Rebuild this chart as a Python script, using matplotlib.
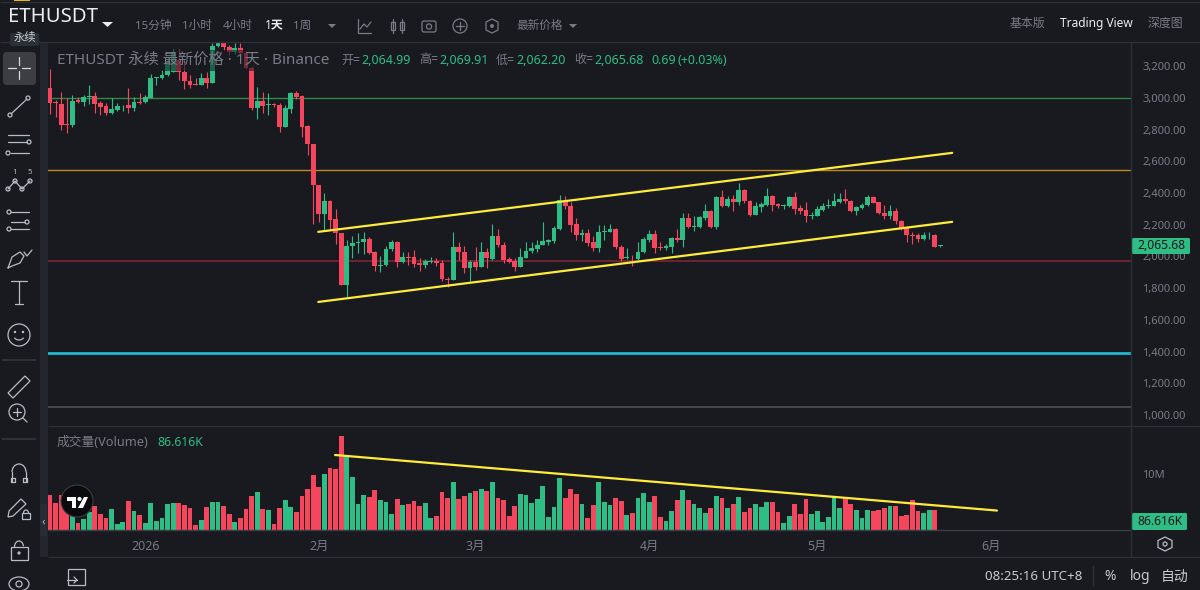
#ETHUSDT daily chart, Binance style
import matplotlib
matplotlib.use('Agg')
import matplotlib.pyplot as plt
from matplotlib.patches import Rectangle, Circle, FancyBboxPatch, Polygon, Arc

plt.rcParams['font.family'] = ['Noto Sans', 'Noto Sans CJK SC', 'DejaVu Sans']

#Daily candles
opens = [3063,2975,2962,2836,2828,2987,2975,3004,3013,2966,2950,2903,2924,2952,2954,2937,2975,2971,3000,3128,
 3126,3143,3166,3239,3166,3109,3086,3084,3126,3093,3324,3345,3320,3292,3313,3282,3187,2935,2983,2958,
 2962,2956,2815,2928,3029,3013,2823,2710,2453,2268,2348,2234,2150,1822,2063,2083,2088,2109,2025,1940,
 1947,2046,2088,1968,1999,1995,1957,1949,1966,1974,1961,1858,1852,2058,2029,1928,1966,1936,2029,1982,
 2130,2075,1982,1972,1936,1991,2033,2050,2071,2094,2096,2176,2355,2319,2205,2136,2147,2088,2052,2151,
 2157,2172,2062,1987,1993,1982,2025,2104,2142,2062,2054,2058,2115,2104,2243,2188,2188,2241,2285,2184,
 2374,2319,2361,2344,2420,2352,2260,2310,2327,2378,2331,2319,2319,2374,2306,2294,2252,2256,2294,2315,
 2319,2346,2361,2352,2289,2306,2323,2374,2344,2277,2256,2285,2226,2180,2138,2134,2109,2127,2138,2064.99]
closes = [2966,2966,2832,2828,2983,2977,3004,3013,2962,2945,2903,2928,2950,2958,2937,2975,2968,3004,3126,3134,
 3147,3229,3292,3166,3105,3084,3082,3126,3093,3328,3345,3320,3292,3313,3286,3187,2935,2983,2950,2962,
 2954,2815,2933,3029,3004,2819,2706,2449,2268,2348,2230,2150,1822,2066,2087,2092,2109,2020,1940,1949,
 2050,2088,1968,1999,1991,1953,1947,1972,1972,1959,1856,1852,2058,2025,1928,1966,1936,2029,1987,2130,
 2073,1978,1968,1936,1995,2037,2054,2075,2096,2102,2180,2355,2315,2201,2134,2147,2083,2054,2155,2161,
 2172,2058,1982,1995,1987,2029,2109,2142,2054,2054,2067,2115,2104,2243,2188,2193,2247,2285,2184,2374,
 2319,2361,2346,2420,2348,2260,2315,2331,2378,2327,2319,2325,2374,2302,2289,2252,2260,2298,2319,2327,
 2348,2361,2348,2289,2310,2327,2374,2340,2273,2256,2285,2222,2176,2134,2130,2109,2134,2132,2062,2065.68]
highs = [3181,2987,3036,2998,3019,3004,3019,3082,3040,2981,2966,2998,2966,2958,3061,3008,3029,3019,3151,3134,
 3177,3250,3307,3307,3239,3145,3124,3156,3166,3345,3360,3360,3335,3345,3345,3295,3200,3071,3040,3029,
 2970,2966,2956,3040,3046,3019,2830,2710,2453,2399,2357,2298,2150,2104,2130,2147,2151,2121,2037,2004,
 2067,2104,2100,2025,2025,2041,1987,1982,1995,1989,1978,1873,2157,2088,2067,1978,2058,2092,2052,2203,
 2172,2092,1999,1987,2056,2092,2092,2104,2216,2113,2189,2388,2378,2346,2241,2172,2172,2130,2199,2199,
 2205,2178,2075,2052,2010,2092,2121,2168,2168,2088,2079,2125,2176,2277,2273,2252,2256,2331,2294,2382,
 2420,2382,2388,2466,2424,2357,2344,2346,2430,2388,2340,2329,2378,2407,2325,2346,2283,2315,2340,2361,
 2403,2399,2424,2357,2315,2336,2388,2378,2346,2325,2325,2304,2230,2193,2157,2146,2151,2157,2142,2069.91]
lows = [2899,2878,2798,2777,2815,2966,2950,2962,2903,2891,2891,2899,2916,2920,2907,2920,2962,2966,3000,3082,
 3118,3135,3160,3113,3055,3061,3082,3082,3061,3093,3320,3300,3270,3275,3275,3180,2925,2865,2907,2893,
 2945,2785,2815,2903,2992,2756,2640,2205,2220,2167,2167,2079,1822,1747,1989,2020,2016,2016,1911,1903,
 1940,2037,1936,1957,1949,1932,1911,1924,1961,1940,1842,1806,1852,1978,1894,1842,1915,1932,1928,1978,
 2058,1957,1957,1911,1932,1987,2020,2029,2069,2071,2083,2168,2298,2157,2104,2096,2067,2033,2031,2104,
 2151,2046,1970,1982,1940,1978,2020,2092,2020,2041,2041,2024,2094,2062,2178,2163,2178,2231,2180,2172,
 2310,2310,2285,2325,2340,2256,2260,2283,2315,2285,2304,2298,2310,2268,2268,2220,2235,2252,2289,2304,
 2315,2340,2340,2283,2264,2302,2319,2336,2268,2235,2235,2205,2167,2088,2079,2088,2104,2109,2058,2062.20]

#Volume in millions
volumes = [6.36,4.8,6.24,4.8,2.46,1.26,2.04,3.24,4.26,2.88,2.16,3.84,1.14,1.44,5.22,3.42,2.7,1.26,4.86,1.68,
 2.1,4.74,4.86,4.8,4.56,3.96,0.96,1.74,4.14,4.98,5.1,4.38,2.88,1.38,2.16,3.84,6.06,6.78,3.78,3.66,
 1.08,3.96,5.46,4.14,3.18,6.06,7.38,9.96,7.74,10.02,11.1,10.92,16.86,13.26,9.54,4.74,6.36,6.0,7.26,5.46,
 4.98,2.88,5.52,4.5,4.68,5.22,4.38,4.86,2.22,2.46,6.9,5.7,8.7,5.58,6.06,6.66,7.02,7.38,7.02,8.58,
 5.82,5.4,2.46,4.38,6.54,6.3,4.86,5.58,7.98,2.34,4.14,9.42,5.7,7.38,6.48,4.74,2.16,4.56,8.58,4.98,
 4.5,5.7,5.22,2.7,3.06,5.7,6.66,4.98,6.06,2.34,1.56,3.42,5.34,7.14,5.34,4.74,4.02,3.06,3.9,6.06,
 5.7,3.9,4.74,5.94,3.3,4.02,4.74,4.14,5.1,5.04,3.18,1.26,2.58,4.74,2.94,5.64,2.82,3.42,1.38,2.34,
 6.06,3.9,5.7,4.62,3.54,2.1,3.54,3.36,3.66,3.9,4.38,4.26,2.58,2.7,5.34,3.42,3.06,3.54,3.54,0.0866]

#Levels and drawn lines
level_prices = [3000, 2546, 1974, 1393, 1053]
level_colors = ['#2f8a40', '#c08a20', '#7c2636', '#22b8cf', '#4a4c52']
level_widths = [1.0, 1.0, 1.2, 2.0, 1.3]
channel_x = [47.9, 161.1]
channel_upper = [2155, 2653]
channel_lower = [1713, 2218]
vol_line_x = [50.9, 169.1]
vol_line_y = [13.5, 3.5]

price_ticks = [3200,3000,2800,2600,2400,2200,2000,1800,1600,1400,1200,1000]
month_ticks = [17, 48, 76, 107, 137, 168]
month_labels = ['2026', '2月', '3月', '4月', '5月', '6月']

bg = '#181a20'
panel = '#2b2f36'
grey = '#787b86'
icon = '#b7bdc6'
up = '#2ebd85'
down = '#f6465d'
yellow = '#ffeb3b'

W, H = 1200, 590
fig = plt.figure(figsize=(12, 5.9), dpi=100, facecolor=bg)

def pane(x0, y0, x1, y1):
    a = fig.add_axes([x0/W, 1-y1/H, (x1-x0)/W, (y1-y0)/H], facecolor=bg)
    for s in a.spines.values():
        s.set_visible(False)
    return a

colors = [up if c >= o else down for o, c in zip(opens, closes)]
days = list(range(len(opens)))

#Price pane
ax = pane(48, 43, 1131, 425)
for p, c, w in zip(level_prices, level_colors, level_widths):
    ax.axhline(p, color=c, lw=w, zorder=1)
ax.vlines(days, lows, highs, colors=colors, lw=0.8, zorder=2)
body_low = [min(o, c) for o, c in zip(opens, closes)]
body_h = [max(abs(c-o), 4) for o, c in zip(opens, closes)]
ax.bar(days, body_h, bottom=body_low, width=0.84, color=colors, lw=0, zorder=3)
ax.plot(channel_x, channel_upper, color=yellow, lw=1.6, zorder=4, solid_capstyle='round')
ax.plot(channel_x, channel_lower, color=yellow, lw=1.6, zorder=4, solid_capstyle='round')
ax.yaxis.tick_right()
ax.set_yticks(price_ticks)
ax.set_yticklabels([f'{p:,}.00' for p in price_ticks], color=grey, fontsize=8.0)
ax.tick_params(axis='y', length=0, pad=8)
ax.set_xticks([])
ax.set_xlim((48-50)/5.6, (1131-50)/5.6)
ax.set_ylim(937, 3346)

#Volume pane
vx = pane(48, 426, 1131, 530)
vx.bar(days, volumes, width=0.86, color=colors, lw=0, zorder=2)
vx.plot(vol_line_x, vol_line_y, color=yellow, lw=1.6, zorder=4, solid_capstyle='round')
vx.yaxis.tick_right()
vx.set_yticks([10])
vx.set_yticklabels(['10M'], color=grey, fontsize=8.0)
vx.tick_params(axis='y', length=0, pad=8)
vx.set_xticks(month_ticks)
vx.set_xticklabels(month_labels, color=grey, fontsize=8.9)
vx.tick_params(axis='x', length=0, pad=7)
vx.set_xlim((48-50)/5.6, (1131-50)/5.6)
vx.set_ylim(0, 104/5.556)

#Everything around the chart, in pixel coordinates
ui = fig.add_axes([0, 0, 1, 1], zorder=10)
ui.set_xlim(0, W)
ui.set_ylim(H, 0)
ui.axis('off')
ui.patch.set_alpha(0)

def hline(x0, x1, y, c=panel, lw=1):
    ui.plot([x0, x1], [y, y], color=c, lw=lw, solid_capstyle='butt')

def stroke(xs, ys, c=icon, lw=0.9):
    ui.plot(xs, ys, color=c, lw=lw, solid_capstyle='round', solid_joinstyle='round')

def ring(x, y, r, c=icon, lw=0.9, fc='none'):
    ui.add_patch(Circle((x, y), r, fc=fc, ec=c, lw=lw))

def label(x, y, s, c=grey, size=8.7, ha='center', **kw):
    return ui.text(x, y, s, color=c, fontsize=size, ha=ha, va='center', **kw)

#Separators
ui.add_patch(Rectangle((40, 43), 8, 514, fc='#23262d', lw=0))
hline(0, W, 42)
hline(0, W, 1.5)
hline(48, 1200, 425.5)
hline(48, 1131, 530, '#3a3d45')
hline(48, 1200, 557)
ui.plot([1131, 1131], [43, 557], color=panel, lw=1)

#Header
ui.add_patch(Rectangle((14, 0), 16, 1.3, fc='#f0b90b', lw=0))
label(8, 17, 'ETHUSDT', '#eaecef', 14.6, ha='left', fontweight='medium')
ui.add_patch(Polygon([(102, 22), (113, 22), (107.5, 27)], fc='#eaecef', lw=0))
ui.add_patch(FancyBboxPatch((10, 33), 29, 13, boxstyle='round,pad=0,rounding_size=2', fc=panel, lw=0))
label(24.5, 39, '永续', '#c5c9d0', 8.2)
for x, s in zip([153, 197, 238, 302, 540], ['15分钟', '1小时', '4小时', '1周', '最新价格']):
    label(x, 26, s, grey, 8.4)
label(274, 26, '1天', '#eaecef', 8.6, fontweight='bold')
for x in [332, 573]:
    ui.add_patch(Polygon([(x-4, 24), (x+4, 24), (x, 28)], fc=grey, lw=0))

#Header icons
stroke([358, 358, 371], [19, 33, 33], grey)
stroke([360, 364, 367, 371], [29, 24, 27, 22], grey)
for x in [393, 402]:
    ui.add_patch(Rectangle((x-2, 22), 4, 8, fc='none', ec=grey, lw=0.9))
    stroke([x, x], [19, 33], grey)
ui.add_patch(FancyBboxPatch((422, 21), 14, 11, boxstyle='round,pad=0,rounding_size=2', fc='none', ec=grey, lw=0.9))
ring(429, 26.5, 2.6, grey)
ring(460, 26, 7, grey)
stroke([456, 464], [26, 26], grey)
stroke([460, 460], [22, 30], grey)
ui.add_patch(Polygon([(492, 19), (498, 22), (498, 30), (492, 33), (486, 30), (486, 22)], fc='none', ec=grey, lw=0.9))
ring(492, 26, 1.3, grey, fc=grey)
label(1027, 23, '基本版', grey, 8.6)
label(1096, 23, 'Trading View', '#eaecef', 8.6, fontweight='semibold')
label(1165, 23, '深度图', grey, 8.6)

#Legend line, the candles show dimly through it
ui.add_patch(Rectangle((52, 50), 284, 21, fc=bg, alpha=0.6, lw=0))
label(57, 60, 'ETHUSDT 永续 最新价格 · 1天 · Binance', grey, 11.0, ha='left')
ox = [341, 419, 496, 574]
for x, k, v in zip(ox, ['开=', '高=', '低=', '收='], ['2,064.99', '2,069.91', '2,062.20', '2,065.68']):
    label(x, 60, k, grey, 8.7, ha='left')
    label(x+20, 60, v, up, 9.0, ha='left')
label(651, 60, '0.69', up, 9.0, ha='left')
label(677, 60, '(+0.03%)', up, 9.0, ha='left')
label(57, 443, '成交量(Volume)', grey, 9.2, ha='left')
label(157, 442, '86.616K', up, 8.8, ha='left')

#Price and volume tags
ui.add_patch(FancyBboxPatch((1132, 238), 58, 16, boxstyle='round,pad=0,rounding_size=1.5', fc=up, lw=0))
label(1161, 245.5, '2,065.68', '#11161a', 8.7)
ui.add_patch(FancyBboxPatch((1132, 513), 55, 17, boxstyle='round,pad=0,rounding_size=1.5', fc=up, lw=0))
label(1160, 521.5, '86.616K', '#11161a', 8.7)
ui.add_patch(Polygon([(1165, 537), (1172, 540.5), (1172, 547.5), (1165, 551), (1158, 547.5), (1158, 540.5)], fc='none', ec=icon, lw=0.9))
ring(1165, 544, 2, icon)

#Bottom bar
ui.add_patch(Rectangle((68, 569), 17, 16, fc='none', ec=icon, lw=0.9))
stroke([67, 77], [580, 580])
stroke([74, 77, 74], [577, 580, 583])
label(1033.5, 577, '08:25:16 UTC+8', '#c5c9d0', 9.6)
ui.plot([1093, 1093], [566, 586], color=panel, lw=1)
label(1110, 577, '%', '#c5c9d0', 10)
label(1140, 577, 'log', '#c5c9d0', 10)
label(1175, 577, '自动', '#c5c9d0', 10)

#TradingView badge
ring(77, 501, 16, '#3a3d45', 0.8, fc='#0b0b0d')
ui.add_patch(Polygon([(67, 497), (76, 497), (76, 508), (72, 508), (72, 501), (67, 501)], fc='white', lw=0))
ring(79.5, 499, 2, 'white', 0.1, fc='white')
ui.add_patch(Polygon([(84, 497), (88, 497), (83, 508), (78, 508)], fc='white', lw=0))

#Left toolbar
ui.add_patch(FancyBboxPatch((3, 52), 33, 33, boxstyle='round,pad=0,rounding_size=4', fc='#3c3e44', lw=0))
stroke([19, 19], [57, 65], '#d5d8dc')
stroke([19, 19], [71, 79], '#d5d8dc')
stroke([8, 16], [68, 68], '#d5d8dc')
stroke([22, 30], [68, 68], '#d5d8dc')
stroke([11, 27], [114, 99])
ring(10, 115, 2)
ring(28, 98, 2)
for y, a, b in [(135, 8, 29), (142, 8, 27), (153, 11, 29)]:
    stroke([a, b], [y, y])
ring(29, 142, 2)
ring(8, 153, 2)
stroke([8, 15, 22, 30], [189, 181, 189, 181])
for x, y in [(8, 189), (15, 181), (22, 189), (30, 181)]:
    ring(x, y, 2, fc=bg)
label(15, 173, '1', icon, 5.5, fontweight='bold')
label(30, 173, '5', icon, 5.5, fontweight='bold')
for y, a, b in [(212, 11, 29), (222, 11, 25), (229, 11, 29)]:
    stroke([a, b], [y, y])
ring(9, 212, 2)
ring(27, 222, 2)
ring(9, 229, 2)
stroke([8, 12, 20, 24, 20, 12, 8], [268, 257, 252, 256, 263, 266, 268])
stroke([24, 27, 32], [252, 256, 250])
stroke([11, 27], [281, 281])
stroke([19, 19], [281, 304])
stroke([15, 23], [304, 304])
ring(19, 335, 11)
ring(15, 332, 0.6, fc=icon)
ring(23, 332, 0.6, fc=icon)
ui.add_patch(Arc((19, 336), 10, 8, theta1=20, theta2=160, ec=icon, lw=0.9))
hline(2, 36, 360, '#33363d', 1.2)
ui.add_patch(Polygon([(8, 393), (25, 376), (30, 381), (13, 398)], fc='none', ec=icon, lw=0.9))
ring(17, 412, 8)
stroke([13, 21], [412, 412])
stroke([17, 17], [408, 416])
stroke([23, 27], [418, 422])
hline(2, 36, 439, '#33363d', 1.2)
stroke([12, 12], [482, 472])
stroke([26, 26], [482, 472])
ui.add_patch(Arc((19, 472), 14, 16, theta1=180, theta2=360, ec=icon, lw=0.9))
stroke([11, 15, 15, 11, 11], [482, 482, 478, 478, 482])
stroke([23, 27, 27, 23, 23], [482, 482, 478, 478, 482])
ui.add_patch(Polygon([(8, 517), (9, 511), (21, 499), (26, 504), (13, 516)], fc='none', ec=icon, lw=0.9))
ui.add_patch(Rectangle((22, 513), 8, 6, fc='none', ec=icon, lw=0.9))
ui.add_patch(Arc((26, 513), 5, 6, theta1=180, theta2=360, ec=icon, lw=0.9))
ui.add_patch(Rectangle((11, 547), 17, 13, fc='none', ec=icon, lw=0.9))
ui.add_patch(Arc((19, 547), 9, 12, theta1=180, theta2=350, ec=icon, lw=0.9))
ring(19, 553, 1, fc=icon)
ui.add_patch(Arc((19, 584), 20, 14, theta1=180, theta2=360, ec=icon, lw=0.9))
ui.add_patch(Arc((19, 584), 20, 14, theta1=0, theta2=180, ec=icon, lw=0.9))
ring(19, 584, 3)
ui.add_patch(FancyBboxPatch((40, 504), 7, 32, boxstyle='round,pad=0,rounding_size=2', fc='#2a2c33', lw=0))
label(43.5, 522, '‹', icon, 8)

fig.savefig('out.png', dpi=100, facecolor=bg)
